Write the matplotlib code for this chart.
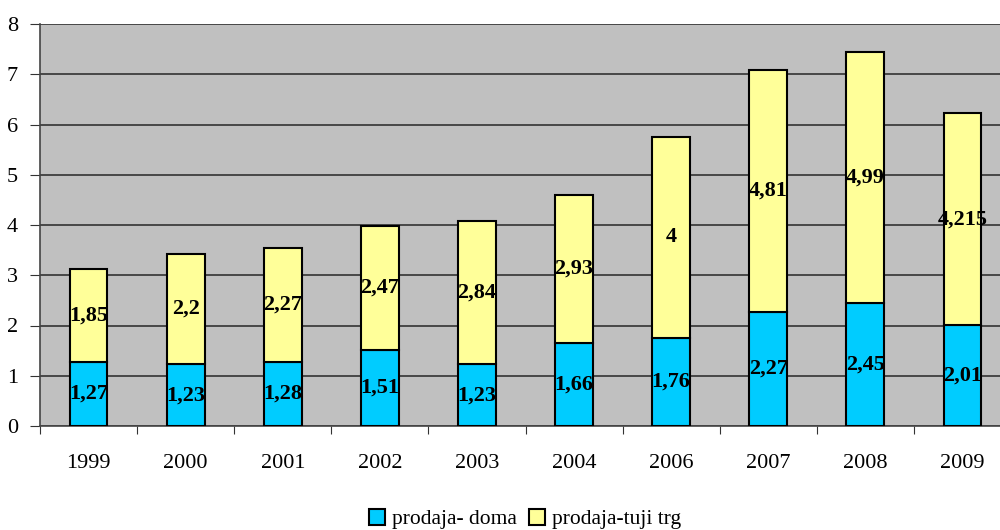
import numpy as np
import matplotlib.pyplot as plt
from matplotlib.patches import Patch

years = ["1999", "2000", "2001", "2002", "2003", "2004", "2006", "2007", "2008", "2009"]
doma = [1.27, 1.23, 1.28, 1.51, 1.23, 1.66, 1.76, 2.27, 2.45, 2.01]
tuji = [1.85, 2.2, 2.27, 2.47, 2.84, 2.93, 4, 4.81, 4.99, 4.215]
series_names = ["prodaja- doma", "prodaja-tuji trg"]

plt.rcParams['font.family'] = ['Liberation Serif', 'DejaVu Serif']

fig = plt.figure(figsize=(10, 5.3), dpi=100)
# plot area runs past the right edge of the image, as in the original
ax = fig.add_axes([0.040, 1 - 426 / 530, 0.971, 402 / 530])
ax.set_facecolor("#C0C0C0")

x = np.arange(len(years))
w = 0.39
ax.bar(x, doma, w, color="#00CCFF", edgecolor="black", linewidth=1.5, zorder=3)
ax.bar(x, tuji, w, bottom=doma, color="#FFFF99", edgecolor="black", linewidth=1.5, zorder=3)

def fmt(v):
    return f"{v:g}".replace(".", ",")

for i in range(len(years)):
    ax.text(x[i], doma[i] / 2, fmt(doma[i]), ha="center", va="center",
            fontsize=16, fontweight="bold", zorder=4)
    ax.text(x[i], doma[i] + tuji[i] / 2, fmt(tuji[i]), ha="center", va="center",
            fontsize=16, fontweight="bold", zorder=4)

ax.set_xlim(-0.5, len(years) - 0.5)
ax.set_ylim(0, 8)
ax.set_yticks(range(0, 9))
ax.yaxis.grid(True, color="#333333", linewidth=1.2, zorder=0)
ax.set_axisbelow(True)

ax.set_xticks(np.arange(-0.5, len(years), 1))
ax.set_xticklabels([])
ax.set_xticks(x, minor=True)
ax.set_xticklabels(years, minor=True)
ax.tick_params(axis="x", which="minor", length=0, pad=20, labelsize=16)
ax.tick_params(axis="x", which="major", length=6, direction="out", color="#333333")
ax.tick_params(axis="y", length=7, direction="out", labelsize=16, pad=9, color="#333333")

for s in ["top", "right"]:
    ax.spines[s].set_visible(False)
ax.spines["left"].set_color("#444444")
ax.spines["bottom"].set_color("#444444")
ax.spines["left"].set_linewidth(1.2)
ax.spines["bottom"].set_linewidth(1.2)

handles = [Patch(facecolor="#00CCFF", edgecolor="black", linewidth=1.5),
           Patch(facecolor="#FFFF99", edgecolor="black", linewidth=1.5)]
fig.legend(handles, series_names, loc="center", bbox_to_anchor=(0.525, 1 - 519 / 530),
           ncol=2, frameon=False, fontsize=15.5, handlelength=0.75, handleheight=0.75,
           handletextpad=0.3, columnspacing=0.6, borderpad=0)

fig.savefig("out.png", dpi=100)
